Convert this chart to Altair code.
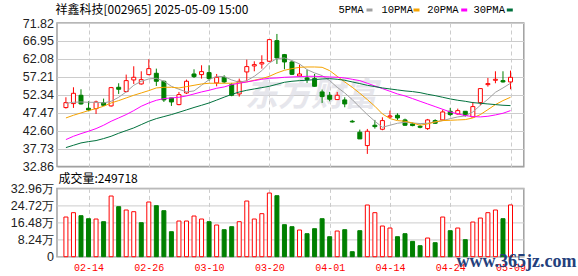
import json
import altair as alt
import pandas as pd

dates = ["02-11", "02-12", "02-13", "02-14", "02-17", "02-18", "02-19", "02-20", "02-21",
         "02-24", "02-25", "02-26", "02-27", "02-28",
         "03-03", "03-04", "03-05", "03-06", "03-07", "03-10", "03-11", "03-12", "03-13", "03-14",
         "03-17", "03-18", "03-19", "03-20", "03-21", "03-24", "03-25", "03-26", "03-27", "03-28",
         "03-31", "04-01", "04-02", "04-03", "04-07", "04-08", "04-09", "04-10", "04-11",
         "04-14", "04-15", "04-16", "04-17", "04-18", "04-21", "04-22", "04-23", "04-24", "04-25",
         "04-28", "04-29", "04-30", "05-06", "05-07", "05-08", "05-09"]

opens = [48.87, 49.95, 52.21, 48.68, 48.59, 50.22, 49.32, 54.38, 53.21, 56.37,
         55.28, 57.82, 58.18, 56.01, 51.49, 49.68, 52.84, 57.99, 57.82, 58.36,
         55.56, 57.09, 55.10, 52.57, 58.54, 60.17, 60.71, 61.43, 67.04, 63.24,
         61.25, 57.45, 56.91, 56.73, 53.12, 52.21, 51.04, 50.95, 45.16, 42.18,
         38.56, 44.08, 42.99, 46.33, 46.79, 45.52, 44.44, 43.80, 43.17, 45.34,
         45.52, 47.87, 47.15, 47.87, 46.33, 50.22, 55.10, 56.28, 56.19, 55.83]
highs = [51.67, 54.38, 53.84, 50.58, 50.76, 51.31, 54.47, 55.47, 57.82, 60.08,
         58.72, 61.97, 59.44, 56.19, 51.49, 53.12, 56.46, 59.26, 60.35, 60.35,
         57.99, 57.64, 55.56, 56.73, 61.88, 61.43, 63.06, 67.40, 68.85, 63.42,
         61.61, 60.53, 59.17, 57.99, 53.75, 53.12, 53.12, 51.67, 45.52, 42.90,
         43.08, 45.52, 46.24, 48.05, 47.33, 45.88, 44.80, 44.26, 45.79, 45.70,
         48.32, 48.78, 48.60, 47.87, 50.40, 54.02, 56.91, 58.72, 58.72, 58.90]
lows = [48.60, 48.78, 49.68, 47.87, 47.15, 49.41, 49.14, 52.57, 53.02, 55.28,
        55.10, 57.64, 54.74, 50.40, 49.32, 49.50, 52.57, 56.91, 56.73, 56.19,
        54.65, 55.47, 51.94, 51.85, 56.01, 58.72, 59.44, 61.25, 60.71, 59.26,
        57.70, 57.36, 55.56, 54.56, 50.13, 50.58, 50.95, 48.96, 44.80, 40.37,
        36.30, 43.17, 42.72, 45.88, 45.52, 43.90, 43.80, 43.26, 42.81, 44.44,
        45.34, 46.61, 46.97, 46.43, 46.24, 49.50, 54.56, 55.47, 55.65, 53.84]
closes = [50.22, 52.75, 49.86, 48.23, 50.40, 49.50, 54.29, 53.84, 56.19, 57.09,
          56.46, 59.44, 56.01, 50.95, 50.40, 52.39, 56.01, 57.27, 58.63, 56.73,
          57.09, 55.83, 52.21, 56.01, 59.99, 60.53, 61.07, 67.31, 62.34, 61.25,
          57.90, 57.99, 56.46, 54.65, 51.85, 51.13, 52.21, 49.86, 44.98, 40.37,
          42.45, 43.71, 45.34, 46.61, 46.06, 44.08, 43.99, 43.53, 45.52, 44.62,
          47.69, 46.97, 48.05, 46.79, 49.14, 54.02, 55.38, 56.55, 55.83, 57.09]

# volume in 万 (10k)
volumes = [19.15, 21.24, 19.79, 18.34, 18.18, 16.89, 29.28, 24.14, 22.53, 21.72,
           16.41, 26.39, 24.62, 22.20, 12.07, 17.22, 17.22, 19.63, 18.18, 16.89,
           15.29, 13.03, 14.48, 16.89, 26.87, 18.18, 20.76, 30.73, 29.44, 15.45,
           14.48, 12.87, 11.10, 13.52, 18.34, 9.65, 12.39, 13.03, 2.41, 12.55,
           24.94, 21.24, 14.80, 13.84, 9.65, 11.10, 7.40, 5.31, 9.01, 6.76,
           19.15, 12.55, 13.84, 8.21, 16.73, 18.66, 21.24, 22.53, 18.34, 24.9718]
vol_dir = ["up", "up", "down", "down", "up", "down", "up", "down", "up", "up",
           "down", "up", "down", "down", "down", "up", "up", "up", "up", "down",
           "up", "down", "down", "up", "up", "up", "up", "up", "down", "down",
           "down", "up", "down", "down", "down", "down", "up", "down", "down", "down",
           "up", "up", "up", "up", "down", "down", "down", "down", "up", "down",
           "up", "down", "up", "down", "up", "up", "up", "up", "down", "up"]

ma5 = [50.04, 50.31, 50.40, 50.31, 50.31, 50.13, 50.58, 51.67, 53.12, 54.92,
       56.01, 56.64, 56.82, 56.01, 54.65, 53.84, 53.12, 53.39, 54.92, 56.46,
       57.36, 57.27, 56.37, 55.74, 56.19, 57.36, 58.90, 60.98, 62.16, 62.34,
       61.61, 60.71, 59.17, 58.27, 57.54, 56.19, 54.38, 52.84, 51.04, 48.96,
       46.97, 45.16, 43.53, 44.08, 44.62, 44.89, 44.71, 44.53, 44.62, 44.98,
       45.34, 45.88, 46.34, 46.61, 47.69, 49.50, 51.13, 53.02, 54.20, 55.47]
ma10 = [46.06, 46.79, 47.42, 48.05, 48.60, 49.23, 50.13, 50.76, 51.49, 52.21,
        52.84, 53.48, 54.20, 54.38, 54.38, 54.20, 54.56, 54.92, 55.28, 55.47,
        55.47, 55.47, 55.47, 55.56, 55.83, 56.30, 56.73, 57.36, 58.27, 58.99,
        59.44, 59.80, 59.89, 59.89, 59.80, 58.90, 57.36, 55.83, 54.38, 52.75,
        51.04, 49.23, 47.15, 45.88, 45.34, 45.16, 44.71, 44.08, 44.44, 44.98,
        45.34, 45.43, 45.52, 45.61, 46.06, 46.97, 48.32, 49.68, 50.76, 51.67]
ma20 = [40.19, 41.09, 41.81, 42.45, 43.17, 44.08, 45.16, 46.06, 46.97, 48.05,
        49.23, 50.13, 50.85, 51.31, 51.49, 51.67, 52.03, 52.57, 53.12, 53.57,
        54.11, 54.47, 55.10, 55.47, 55.83, 56.19, 56.55, 56.82, 56.91, 57.09,
        57.18, 57.27, 57.36, 57.36, 57.27, 57.18, 57.09, 56.91, 56.55, 56.19,
        55.47, 54.74, 54.02, 53.30, 52.57, 52.03, 51.31, 50.58, 49.86, 49.14,
        48.41, 47.69, 47.15, 46.70, 46.43, 46.34, 46.52, 46.88, 47.33, 48.05]
ma30 = [38.02, 38.65, 39.28, 39.64, 39.92, 40.46, 41.09, 41.90, 42.63, 43.35,
        44.26, 45.16, 45.88, 46.43, 46.97, 47.60, 48.25, 48.90, 49.50, 50.13,
        50.90, 51.70, 52.45, 53.10, 53.57, 53.93, 54.29, 54.65, 55.19, 55.74,
        56.01, 56.19, 56.28, 56.46, 56.64, 56.73, 56.55, 56.28, 55.83, 55.38,
        54.92, 54.56, 54.20, 53.93, 53.66, 53.39, 53.21, 52.93, 52.48, 52.12,
        51.67, 51.22, 50.86, 50.58, 50.22, 50.04, 49.86, 49.68, 49.50, 49.41]

price_ticks = [32.86, 37.73, 42.60, 47.47, 52.34, 57.21, 62.08, 66.95, 71.82]
vol_ticks = [0, 8.24, 16.48, 24.72, 32.96]
tick_dates = ["02-14", "02-26", "03-10", "03-20", "04-01", "04-14", "04-24", "05-09"]
ma_names = ["5PMA", "10PMA", "20PMA", "30PMA"]

stock_title = "祥鑫科技[002965] 2025-05-09 15:00"

RED = "#ff0000"
GREEN = "#008000"
MA_COLORS = ["#a0a0a0", "#f5a300", "#ff00ff", "#00703c"]
GRID = "#cccccc"

n = len(dates)
df = pd.DataFrame({
    "i": list(range(n)), "date": dates,
    "open": opens, "high": highs, "low": lows, "close": closes,
    "vol": volumes, "vdir": vol_dir,
    "ma5": ma5, "ma10": ma10, "ma20": ma20, "ma30": ma30,
})
df["dir"] = ["up" if c >= o else "down" for o, c in zip(opens, closes)]

tick_idx = [dates.index(d) for d in tick_dates]
label_expr = json.dumps(dates) + "[datum.value]"

# layout: plot area left edge at x=55.5, price panel top at y=21.7
LEFT = 55.5
TOP = 21.7

xscale = alt.Scale(domain=[-0.52, 60.1], nice=False, zero=False)
x_price = alt.X("i:Q", scale=xscale,
                axis=alt.Axis(values=tick_idx, labels=False, ticks=False, domain=False,
                              grid=True, gridDash=[4, 3], gridColor=GRID, title=None))
x_vol = alt.X("i:Q", scale=xscale,
              axis=alt.Axis(values=tick_idx, labelExpr=label_expr, labelColor=RED,
                            labelFont="Liberation Mono", labelFontSize=10, labelPadding=6,
                            labelFlush=False, ticks=False, domain=False,
                            grid=True, gridDash=[4, 3], gridColor=GRID, title=None))

pscale = alt.Scale(domain=[price_ticks[0], price_ticks[-1]], nice=False, zero=False)
paxis = alt.Axis(values=price_ticks, format=".2f", grid=True, gridColor=GRID, domain=False,
                 ticks=False, labelPadding=3.5, title=None)

def py(field):
    return alt.Y(f"{field}:Q", scale=pscale, axis=paxis)

updown = ["up", "down"]
line_col = alt.Scale(domain=updown, range=[RED, GREEN])
fill_col = alt.Scale(domain=updown, range=["#ffffff", GREEN])

base = alt.Chart(df)
one = alt.Data(values=[{}])

# invisible anchor that fixes the top-left offset of the whole figure
anchor = alt.Chart(one).mark_rule(strokeOpacity=0, opacity=0).encode(
    x=alt.value(-LEFT), x2=alt.value(-LEFT + 1), y=alt.value(-TOP))

watermark = alt.Chart(one).mark_text(
    text="东方财富", font="Noto Sans CJK SC", fontSize=33, fontWeight="bold",
    fontStyle="italic", color="#dcdce4", opacity=0.7, align="center", baseline="middle",
).encode(x=alt.value(254), y=alt.value(73))

wicks = base.mark_rule(strokeWidth=1).encode(
    x=x_price, y=py("low"), y2="high:Q",
    color=alt.Color("dir:N", scale=line_col, legend=None))
bodies = base.mark_bar(size=4, strokeWidth=1).encode(
    x="i:Q", y=py("open"), y2="close:Q",
    fill=alt.Fill("dir:N", scale=fill_col, legend=None),
    stroke=alt.Stroke("dir:N", scale=line_col, legend=None))

lines = [base.mark_line(strokeWidth=1, color=c).encode(x="i:Q", y=py(f))
         for f, c in zip(["ma5", "ma10", "ma20", "ma30"], MA_COLORS)]

title_txt = alt.Chart(one).mark_text(
    text=stock_title, font="Noto Sans CJK SC", fontSize=12, color="#000000",
    align="left", baseline="middle").encode(x=alt.value(-1.5), y=alt.value(-13.4))

legend_layers = []
text_x = [281.5, 324.5, 370.2, 416.5]
sw_x = [309.5, 356.5, 404.2, 449.8]
for name, col, tx, sx in zip(ma_names, MA_COLORS, text_x, sw_x):
    legend_layers.append(alt.Chart(one).mark_text(
        text=name, font="Liberation Mono", fontSize=10.5, color="#000000",
        align="left", baseline="middle").encode(x=alt.value(tx), y=alt.value(-12.9)))
    legend_layers.append(alt.Chart(one).mark_rule(color=col, strokeWidth=3).encode(
        x=alt.value(sx), x2=alt.value(sx + 6), y=alt.value(-13)))

price = alt.layer(anchor, watermark, wicks, bodies, *lines, title_txt, *legend_layers).properties(
    width=466.8, height=143.6)

vscale = alt.Scale(domain=[0, vol_ticks[-1]], nice=False, zero=True)
vaxis = alt.Axis(values=vol_ticks, grid=True, gridColor=GRID, domain=False, ticks=False,
                 labelPadding=3.5, title=None,
                 labelExpr="datum.value == 0 ? '0' : format(datum.value, '.2f') + '万'")
vbars = base.mark_bar(size=4, strokeWidth=1).encode(
    x=x_vol, y=alt.Y("vol:Q", scale=vscale, axis=vaxis),
    fill=alt.Fill("vdir:N", scale=fill_col, legend=None),
    stroke=alt.Stroke("vdir:N", scale=line_col, legend=None))

vol_txt = alt.Chart(one).mark_text(
    text=f"成交量:{round(volumes[-1] * 10000)}", font="Noto Sans CJK SC", fontSize=12,
    color="#000000", align="left", baseline="middle").encode(x=alt.value(1.5), y=alt.value(-9))

site = alt.Chart(one).mark_text(
    text="www.365jz.com", font="Liberation Serif", fontSize=18, fontWeight="bold",
    color="#24407c", align="left", baseline="middle").encode(x=alt.value(399.5), y=alt.value(74))

vol = alt.layer(vbars, vol_txt, site).properties(width=466.8, height=68.3)

chart = alt.vconcat(price, vol, spacing=21.4, bounds="flush").properties(
    padding={"left": 0, "top": 0, "right": 0, "bottom": 0}
).configure_view(
    stroke="#a0a0a0", strokeWidth=1.5
).configure_axis(
    labelFont="Liberation Sans", labelFontSize=12.5, labelColor="#222222"
)

chart.save("out.html", embed_options={"renderer": "svg", "actions": False})
